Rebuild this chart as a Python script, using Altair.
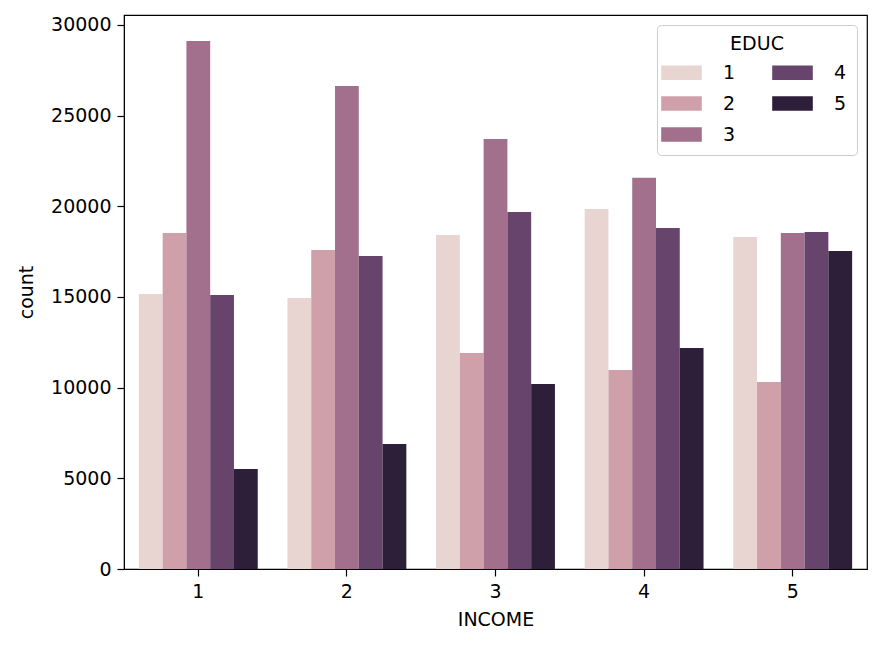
import altair as alt
import pandas as pd

income = ["1", "2", "3", "4", "5"]
educ = ["1", "2", "3", "4", "5"]
# counts[educ][income]
counts = {
    "1": [15170, 14950, 18420, 19850, 18310],
    "2": [18530, 17590, 11910, 10980, 10310],
    "3": [29120, 26640, 23710, 21570, 18530],
    "4": [15110, 17260, 19690, 18810, 18590],
    "5": [5520, 6890, 10200, 12190, 17540],
}
palette = ["#e8d5d1", "#d0a0aa", "#a26f8c", "#66446b", "#2d1e3a"]

rows = []
for e in educ:
    for i, inc in enumerate(income):
        rows.append({"INCOME": inc, "EDUC": e, "count": counts[e][i]})
df = pd.DataFrame(rows)

FONT = "DejaVu Sans"
FS = 19

chart = alt.Chart(df).mark_bar().encode(
    x=alt.X("INCOME:N", sort=income,
            scale=alt.Scale(paddingInner=0.2, paddingOuter=0.1),
            axis=alt.Axis(labelAngle=0, title="INCOME")),
    xOffset=alt.XOffset("EDUC:N", sort=educ, scale=alt.Scale(paddingInner=0, paddingOuter=0)),
    y=alt.Y("count:Q", scale=alt.Scale(domain=[0, 30550], nice=False, zero=True),
            axis=alt.Axis(values=[0, 5000, 10000, 15000, 20000, 25000, 30000], format="d", title="count")),
    color=alt.Color("EDUC:N", sort=educ,
                    scale=alt.Scale(domain=educ, range=palette),
                    legend=alt.Legend(
                        title="EDUC", orient="none", legendX=533, legendY=10,
                        columns=2,
                        symbolType="M-1.4,-0.5H1.4V0.5H-1.4Z", symbolSize=841,
                        symbolStrokeWidth=0, symbolOpacity=1,
                        labelFont=FONT, labelFontSize=FS, labelColor="black",
                        titleFont=FONT, titleFontSize=FS, titleFontWeight="normal", titleColor="black",
                        titleAnchor="middle", titleAlign="center", titlePadding=4,
                        fillColor="white", strokeColor="#cccccc", cornerRadius=4, padding=10,
                        rowPadding=6, columnPadding=36, labelOffset=27,
                    )),
).properties(width=743, height=554)

chart = chart.configure(
    autosize=alt.AutoSizeParams(type="none"),
    padding={"left": 116, "top": 7, "right": 4, "bottom": 66},
    font=FONT,
).configure_view(stroke="black", strokeWidth=1.2).configure_axis(
    labelFont=FONT, labelFontSize=FS, labelColor="black",
    titleFont=FONT, titleFontSize=FS, titleFontWeight="normal", titleColor="black",
    domainColor="black", tickColor="black", tickSize=7, tickWidth=1.2, grid=False,
    labelPadding=6,
).configure_axisY(titlePadding=14).configure_axisX(titlePadding=9)

chart.save("out.html", embed_options={"renderer": "svg", "actions": False})
